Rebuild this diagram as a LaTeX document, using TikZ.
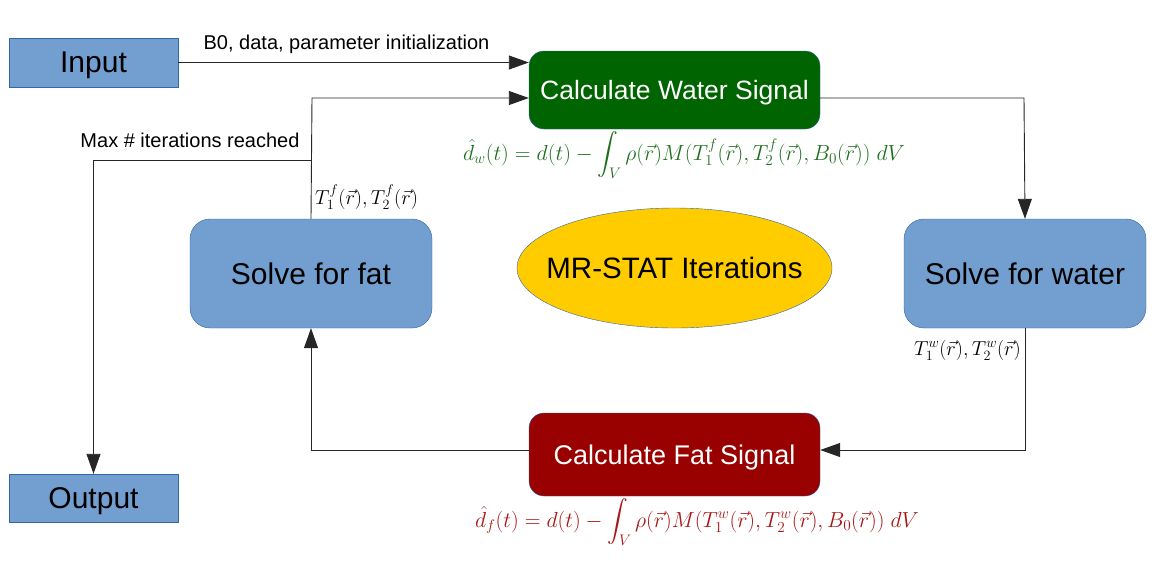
\RequirePackage{fix-cm}
\documentclass[tikz,border=0pt]{standalone}
\usepackage{amsmath}
\usepackage[no-math]{fontspec}
\setmainfont{Liberation Sans}
\usetikzlibrary{arrows.meta,shapes.geometric}
\definecolor{lblue}{HTML}{729FCF}
\definecolor{bblue}{HTML}{3465A4}
\definecolor{dgreen}{RGB}{0,100,0}
\definecolor{dred}{RGB}{153,0,0}
\definecolor{fgreen}{RGB}{30,110,30}
\definecolor{fred}{RGB}{170,20,20}
\definecolor{yel}{HTML}{FFCC00}
\tikzset{
  bluebox/.style={draw=bblue, fill=lblue, inner sep=0pt, text depth=0pt, font=\fontsize{30}{34}\selectfont},
  solvebox/.style={bluebox, rounded corners=20pt, minimum width=242pt, minimum height=109pt},
  sigbox/.style={draw=bblue, rounded corners=15pt, inner sep=0pt, text depth=0pt, text=white, minimum width=291pt, font=\fontsize{26.5}{30}\selectfont},
  conn/.style={draw=black!85, line width=0.9pt},
  arr/.style={conn, -{Triangle[length=20pt,width=14pt]}},
  lbl/.style={font=\fontsize{20}{24}\selectfont, inner sep=0pt},
  mth/.style={font=\fontsize{20.2}{23}\selectfont, inner sep=0pt},
  fml/.style={font=\fontsize{21.8}{25}\selectfont, inner sep=0pt, anchor=base}
}
\begin{document}
\begin{tikzpicture}[x=1pt,y=-1pt]
\useasboundingbox (0,0) rectangle (1168,566);
\node[bluebox, minimum width=169pt, minimum height=49pt] (in) at (93.5,62.5) {Input};
\node[bluebox, minimum width=169pt, minimum height=48pt] (out) at (93.5,498) {Output};
\node[sigbox, fill=dgreen, minimum height=78pt] (cw) at (674.5,90) {Calculate Water Signal};
\node[sigbox, fill=dred, minimum height=83pt, font=\fontsize{27}{30}\selectfont] (cf) at (674.5,454.5) {Calculate Fat Signal};
\node[solvebox] (sf) at (311,273.5) {Solve for fat};
\node[solvebox] (sw) at (1025,273.5) {Solve for water};
\node[ellipse, draw=bblue, fill=yel, minimum width=315pt, minimum height=120pt, inner sep=0pt] (it) at (674.5,268) {};
\node[inner sep=0pt, text depth=0pt, font=\fontsize{29.5}{32}\selectfont] (itl) at (it.center) {MR-STAT Iterations};

\coordinate (j1) at (312,98);
\coordinate (br) at (312,160);
\coordinate (j2) at (1024,98);
\coordinate (yf) at (0,450);

\draw[arr] (in.east) -- (in.east -| cw.west);
\draw[arr] (sf.north) -- (j1) -- (j1 -| cw.west);
\draw[arr] (br) -| (out.north);
\draw[arr] (j2 -| cw.east) -- (j2) -- (sw.north);
\draw[arr] (sw.south) |- (cf.east |- yf);
\draw[arr] (cf.west |- yf) -| (sf.south);

\node[lbl] (l1) at (346.5,44) {B0, data, parameter initialization};
\node[lbl] (l2) at (190,140) {Max \# iterations reached};
\node[mth, anchor=base west] (tf) at (315,204) {$T_1^f(\vec{r}), T_2^f(\vec{r})$};
\node[mth, anchor=base east] (tw) at (1021,355) {$T_1^w(\vec{r}), T_2^w(\vec{r})$};
\node[fml, text=fgreen] (fw) at (684,160) {$\hat{d}_w(t) = d(t) - \displaystyle\int_V \rho(\vec{r})M(T_1^f(\vec{r}),T_2^f(\vec{r}),B_0(\vec{r}))\ dV$};
\node[fml, text=fred] (ff) at (697,527) {$\hat{d}_f(t) = d(t) - \displaystyle\int_V \rho(\vec{r})M(T_1^w(\vec{r}),T_2^w(\vec{r}),B_0(\vec{r}))\ dV$};
\end{tikzpicture}
\end{document}
